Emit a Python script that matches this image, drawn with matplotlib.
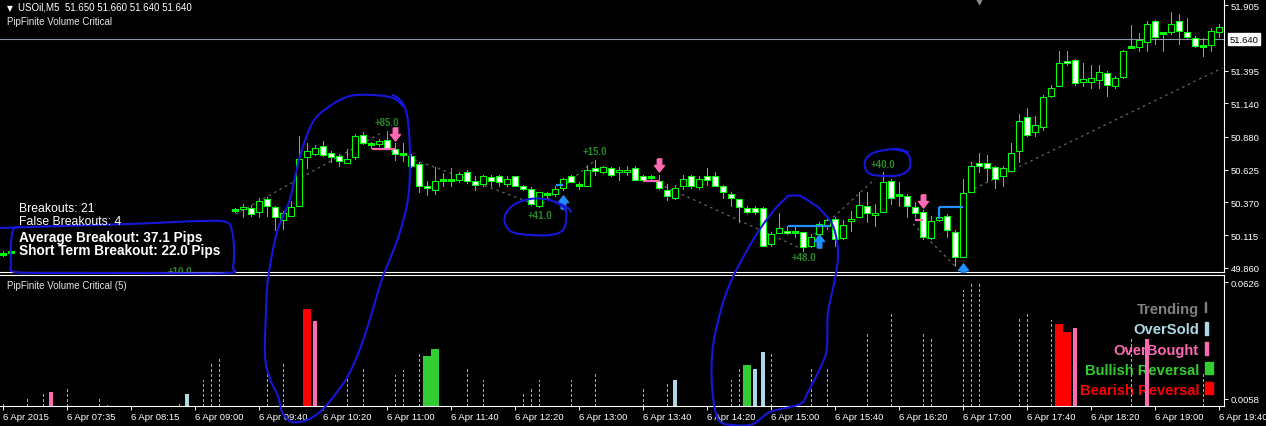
import numpy as np
import matplotlib
matplotlib.use("Agg")
import matplotlib.pyplot as plt
from matplotlib.path import Path
from matplotlib.patches import Rectangle

plt.rcParams['font.family'] = ['Liberation Sans', 'DejaVu Sans']

W, H = 1266, 427

# ---- USOil M5 candles, 6 Apr 2015 (bars 2..28 are below the visible range) ----
bars = [0, 1] + list(range(29, 153))
opens = [49.968, 49.984, 50.310, 50.318, 50.326, 50.295, 50.396, 50.334, 50.233, 50.264,
         50.342, 50.723, 50.746, 50.808, 50.754, 50.731, 50.676, 50.723, 50.894, 50.824,
         50.824, 50.855, 50.785, 50.746, 50.731, 50.668, 50.497, 50.466, 50.544, 50.544,
         50.544, 50.606, 50.536, 50.513, 50.567, 50.575, 50.513, 50.575, 50.497, 50.474,
         50.342, 50.435, 50.435, 50.482, 50.575, 50.505, 50.497, 50.637, 50.606, 50.637,
         50.606, 50.606, 50.637, 50.575, 50.567, 50.536, 50.466, 50.404, 50.497, 50.575,
         50.489, 50.575, 50.575, 50.497, 50.435, 50.396, 50.326, 50.326, 50.326, 50.046,
         50.131, 50.147, 50.139, 50.139, 50.030, 50.124, 50.186, 50.240, 50.093, 50.225,
         50.256, 50.342, 50.272, 50.295, 50.536, 50.427, 50.419, 50.334, 50.295, 50.093,
         50.233, 50.264, 50.139, 49.945, 50.450, 50.676, 50.676, 50.645, 50.575, 50.614,
         50.769, 51.034, 50.917, 50.956, 51.197, 51.275, 51.470, 51.477, 51.306, 51.306,
         51.322, 51.376, 51.275, 51.345, 51.579, 51.579, 51.617, 51.781, 51.687, 51.695,
         51.781, 51.695, 51.649, 51.586, 51.594, 51.695]
highs = [49.990, 50.000, 50.326, 50.357, 50.349, 50.404, 50.412, 50.342, 50.303, 50.380,
         50.886, 50.832, 50.816, 50.847, 50.769, 50.746, 50.785, 50.902, 50.917, 50.839,
         50.863, 50.925, 50.832, 50.832, 50.746, 50.684, 50.536, 50.645, 50.598, 50.637,
         50.606, 50.622, 50.575, 50.583, 50.583, 50.583, 50.575, 50.575, 50.505, 50.489,
         50.450, 50.450, 50.497, 50.559, 50.583, 50.528, 50.661, 50.699, 50.653, 50.645,
         50.645, 50.653, 50.653, 50.583, 50.583, 50.583, 50.513, 50.505, 50.583, 50.583,
         50.575, 50.637, 50.606, 50.505, 50.450, 50.396, 50.342, 50.342, 50.334, 50.139,
         50.287, 50.186, 50.178, 50.139, 50.124, 50.217, 50.264, 50.256, 50.233, 50.303,
         50.450, 50.450, 50.357, 50.606, 50.552, 50.528, 50.435, 50.373, 50.310, 50.264,
         50.342, 50.279, 50.155, 50.552, 50.684, 50.754, 50.738, 50.653, 50.653, 50.832,
         51.057, 51.104, 51.042, 51.205, 51.283, 51.547, 51.547, 51.485, 51.454, 51.439,
         51.439, 51.392, 51.353, 51.555, 51.750, 51.687, 51.781, 51.789, 51.695, 51.851,
         51.835, 51.804, 51.664, 51.649, 51.726, 51.757]
lows = [49.950, 49.965, 50.295, 50.256, 50.264, 50.256, 50.264, 50.155, 50.163, 50.264,
        50.342, 50.637, 50.738, 50.731, 50.684, 50.653, 50.676, 50.707, 50.824, 50.793,
        50.808, 50.793, 50.699, 50.692, 50.645, 50.450, 50.427, 50.435, 50.497, 50.497,
        50.528, 50.520, 50.466, 50.497, 50.497, 50.497, 50.497, 50.497, 50.466, 50.349,
        50.334, 50.396, 50.419, 50.466, 50.528, 50.474, 50.497, 50.583, 50.598, 50.575,
        50.544, 50.583, 50.544, 50.536, 50.552, 50.474, 50.388, 50.396, 50.474, 50.482,
        50.474, 50.505, 50.497, 50.404, 50.342, 50.217, 50.287, 50.279, 50.030, 50.030,
        50.131, 50.124, 50.100, 49.991, 50.023, 50.085, 50.163, 50.030, 50.085, 50.147,
        50.256, 50.217, 50.186, 50.295, 50.357, 50.342, 50.256, 50.256, 50.085, 50.085,
        50.225, 50.100, 49.875, 49.945, 50.450, 50.606, 50.536, 50.482, 50.497, 50.614,
        50.684, 50.886, 50.886, 50.933, 51.190, 51.275, 51.439, 51.283, 51.275, 51.260,
        51.260, 51.197, 51.260, 51.337, 51.579, 51.547, 51.547, 51.602, 51.547, 51.680,
        51.602, 51.641, 51.579, 51.509, 51.547, 51.656]
closes = [49.968, 49.984, 50.310, 50.334, 50.279, 50.380, 50.342, 50.256, 50.287, 50.334,
          50.707, 50.769, 50.793, 50.738, 50.723, 50.692, 50.707, 50.886, 50.832, 50.824,
          50.847, 50.793, 50.746, 50.746, 50.653, 50.497, 50.482, 50.536, 50.544, 50.544,
          50.591, 50.536, 50.505, 50.575, 50.536, 50.528, 50.552, 50.497, 50.474, 50.357,
          50.450, 50.435, 50.474, 50.552, 50.528, 50.505, 50.622, 50.614, 50.645, 50.583,
          50.622, 50.622, 50.544, 50.544, 50.567, 50.482, 50.419, 50.482, 50.552, 50.497,
          50.552, 50.544, 50.497, 50.450, 50.404, 50.334, 50.295, 50.295, 50.030, 50.124,
          50.170, 50.131, 50.139, 50.023, 50.100, 50.202, 50.233, 50.085, 50.194, 50.240,
          50.349, 50.287, 50.287, 50.528, 50.404, 50.427, 50.342, 50.287, 50.100, 50.225,
          50.256, 50.155, 49.945, 50.443, 50.653, 50.653, 50.637, 50.552, 50.637, 50.754,
          51.003, 50.894, 50.972, 51.190, 51.260, 51.454, 51.454, 51.299, 51.330, 51.337,
          51.384, 51.283, 51.337, 51.547, 51.579, 51.633, 51.757, 51.656, 51.687, 51.757,
          51.703, 51.656, 51.586, 51.586, 51.703, 51.734]

time_labels = ["6 Apr 2015", "6 Apr 07:35", "6 Apr 08:15", "6 Apr 09:00", "6 Apr 09:40",
               "6 Apr 10:20", "6 Apr 11:00", "6 Apr 11:40", "6 Apr 12:20", "6 Apr 13:00",
               "6 Apr 13:40", "6 Apr 14:20", "6 Apr 15:00", "6 Apr 15:40", "6 Apr 16:20",
               "6 Apr 17:00", "6 Apr 17:40", "6 Apr 18:20", "6 Apr 19:00", "6 Apr 19:40"]
label_step = 8
price_ticks = [51.905, 51.395, 51.140, 50.880, 50.625, 50.370, 50.115, 49.860]
last_price = 51.640

# zigzag between swing points (nan breaks the line)
zz_bars = [29.1, 47.5, np.nan, 47.75, 67.1, 73.75, np.nan, 82, 99.6, 109, np.nan,
           113.75, 119, np.nan, 120, 152.4]
zz_prices = [50.279, 50.917, np.nan, 50.785, 50.342, 50.684, np.nan, 50.513, 50.015, 50.552,
             np.nan, 50.202, 49.875, np.nan, 50.435, 51.415]

# breakout results
brk_bars = [48, 67.1, 74, 100.1, 110, 22.1]
brk_prices = [50.995, 50.272, 50.769, 49.945, 50.668, 49.835]
brk_texts = ["+85.0", "+41.0", "+15.0", "+48.0", "+40.0", "+10.0"]

# signals
sell_bars = [49, 82, 115]
sell_prices = [50.902, 50.661, 50.380]
buy_bars = [70, 102, 120]
buy_prices = [50.373, 50.069, 49.845]
sell_lines = [(46.1, 49.1, 50.785), (80, 82, 50.536), (114, 115, 50.233)]
buy_lines = [(69.1, 70, 50.505), (98.1, 103.4, 50.186), (117, 120, 50.334)]

# ---- PipFinite Volume Critical (5) ----
trend_idx = [0, 3, 5, 8, 12, 13, 22, 25, 26, 27, 33, 35, 43, 45, 49, 50, 52, 58, 60, 65,
             66, 67, 71, 74, 80, 83, 91, 92, 96, 101, 103, 108, 111, 115, 116, 120, 121, 122,
             127, 128, 131, 141, 150]
trend_val = [0.0043, 0.0063, 0.0092, 0.0121, 0.0063, 0.0029, 0.0048, 0.0150, 0.0238, 0.0257,
             0.0179, 0.0233, 0.0155, 0.0208, 0.0175, 0.0199, 0.0286, 0.0208, 0.0150, 0.0092,
             0.0121, 0.0150, 0.0150, 0.0179, 0.0111, 0.0145, 0.0150, 0.0208, 0.0286, 0.0208,
             0.0208, 0.0383, 0.0475, 0.0383, 0.0354, 0.0587, 0.0616, 0.0616, 0.0461, 0.0471,
             0.0442, 0.0354, 0.0189]
oversold_idx = [23, 84, 94, 95]
oversold_val = [0.0082, 0.0150, 0.0204, 0.0286]
overbought_idx = [6, 39, 134, 143]
overbought_val = [0.0092, 0.0437, 0.0403, 0.0349]
bull_idx = [53, 54, 93]
bull_val = [0.0267, 0.0301, 0.0223]
bear_idx = [38, 132, 133]
bear_val = [0.0495, 0.0422, 0.0383]

C_TREND, C_OS, C_OB, C_BULL, C_BEAR = '#808080', '#add8e6', '#ff69b4', '#32cd32', '#ff0000'
LIME = '#00ff00'
PEN = '#1616dc'


def smooth(pts, n=10):
    # Catmull-Rom through hand-drawn stroke points
    p = np.array(pts, float)
    p = np.vstack([p[0], p, p[-1]])
    out = []
    for i in range(1, len(p) - 2):
        p0, p1, p2, p3 = p[i - 1], p[i], p[i + 1], p[i + 2]
        for t in np.linspace(0, 1, n, endpoint=False):
            out.append(0.5 * (2 * p1 + (-p0 + p2) * t + (2 * p0 - 5 * p1 + 4 * p2 - p3) * t * t
                              + (-p0 + 3 * p1 - 3 * p2 + p3) * t ** 3))
    out.append(p[-2])
    return np.array(out)


fig = plt.figure(figsize=(W / 100, H / 100), dpi=100, facecolor='black')

ov = fig.add_axes([0, 0, 1, 1], zorder=5)
ov.set_xlim(0, W)
ov.set_ylim(H, 0)
ov.axis('off')
ov.patch.set_visible(False)
pix = ov.transData

ax = fig.add_axes([0, 1 - 273 / H, 1224 / W, 273 / H], facecolor='black', zorder=1)
ax2 = fig.add_axes([0, 1 - 407 / H, 1224 / W, 131 / H], facecolor='black', zorder=1)

# ---- main price panel ----
x = np.array(bars, float)
o, h, l, c = (np.array(v) for v in (opens, highs, lows, closes))
up = c >= o
lo_b, hi_b = np.minimum(o, c), np.maximum(o, c)
doji = (hi_b - lo_b) < 0.004

ax.axhline(last_price, color='#8c96a4', lw=0.8, zorder=1)
ax.plot(zz_bars, zz_prices, color='#5e6a68', lw=0.9, ls=(0, (2, 3)), zorder=1.5)
ax.vlines(x, l, h, color=LIME, lw=0.72, zorder=2, antialiased=False)
m = ~doji & up
ax.bar(x[m], (hi_b - lo_b)[m], bottom=lo_b[m], width=0.66, color='black',
       edgecolor=LIME, lw=0.72, zorder=3, antialiased=False)
m = ~doji & ~up
ax.bar(x[m], (hi_b - lo_b)[m], bottom=lo_b[m], width=0.66, color='white',
       edgecolor=LIME, lw=0.72, zorder=3, antialiased=False)
ax.hlines(c[doji], x[doji] - 0.36, x[doji] + 0.36, color=LIME, lw=0.9, zorder=3,
          antialiased=False)

for x0, x1, p in sell_lines:
    ax.hlines(p, x0, x1, color=C_OB, lw=1.6, zorder=4)
for x0, x1, p in buy_lines:
    ax.hlines(p, x0, x1, color='#1e90ff', lw=1.6, zorder=4)
ax.vlines(buy_lines[2][0], buy_lines[2][2] - 0.094, buy_lines[2][2], color='#1e90ff', lw=1.6, zorder=4)

down_arrow = Path([(-0.17, 0.5), (0.17, 0.5), (0.17, 0.0), (0.38, 0.0), (0.0, -0.5),
                   (-0.38, 0.0), (-0.17, 0.0), (-0.17, 0.5)])
up_arrow = Path([(vx, -vy) for vx, vy in down_arrow.vertices])
ax.plot(sell_bars, sell_prices, ls='none', marker=down_arrow, ms=9.5, color=C_OB, zorder=5)
ax.plot(buy_bars, buy_prices, ls='none', marker=up_arrow, ms=9.5, color='#1e90ff', zorder=5)
ax.plot([122], [51.955], ls='none', marker='v', ms=7, color='#8a8a8a', zorder=5)

for bx, bp, t in zip(brk_bars, brk_prices, brk_texts):
    ax.text(bx, bp, t, color='#268a26', fontsize=7, fontweight='bold',
            ha='center', va='center', zorder=5, clip_on=True)

ax.set_xlim(-0.375, 152.625)
ax.set_ylim(49.828, 51.952)
ax.set_xticks([])
ax.yaxis.tick_right()
ax.set_yticks(price_ticks)
ax.set_yticklabels([f"{v:.3f}" for v in price_ticks])
ax.tick_params(axis='y', colors='white', direction='out', length=3, width=0.7,
               pad=2, labelsize=6.8)
for s in ('top', 'left'):
    ax.spines[s].set_visible(False)
for s in ('right', 'bottom'):
    ax.spines[s].set_color('white')
    ax.spines[s].set_linewidth(0.8)
ax.annotate(f"{last_price:.3f}", xy=(1, last_price), xycoords=('axes fraction', 'data'),
            xytext=(4, 0), textcoords='offset points', ha='left', va='center',
            fontsize=6.8, color='black',
            bbox=dict(boxstyle='square,pad=0.18', fc='white', ec='white'))

# ---- indicator panel ----
ax2.vlines(trend_idx, 0, trend_val, colors='#a8a8a8', lw=0.9, linestyles=(0, (2, 2)),
           zorder=2, antialiased=False)
ax2.bar(oversold_idx, oversold_val, width=0.38, color=C_OS, zorder=2)
ax2.bar(overbought_idx, overbought_val, width=0.38, color=C_OB, zorder=2)
ax2.bar(bull_idx, bull_val, width=0.9, color=C_BULL, zorder=2)
ax2.bar(bear_idx, bear_val, width=1.0, color=C_BEAR, zorder=2)

ax2.set_xlim(-0.375, 152.625)
ax2.set_ylim(0.0024, 0.0660)
ax2.yaxis.tick_right()
ax2.set_yticks([0.0626, 0.0058])
ax2.set_yticklabels(["0.0626", "0.0058"])
ax2.set_xticks(np.arange(len(time_labels)) * label_step)
ax2.set_xticklabels(time_labels)
for lab in ax2.get_xticklabels():
    lab.set_ha('left')
ax2.tick_params(axis='y', colors='white', direction='out', length=3, width=0.7,
                pad=2, labelsize=6.8)
ax2.tick_params(axis='x', colors='white', direction='out', length=3, width=0.7,
                pad=1.5, labelsize=6.8)
ax2.spines['left'].set_visible(False)
for s in ('top', 'right', 'bottom'):
    ax2.spines[s].set_color('white')
    ax2.spines[s].set_linewidth(0.8)

legend = [("Trending", C_TREND, 314, 1, 303, 10), ("OverSold", C_OS, 334, 3, 323, 13),
          ("OverBought", C_OB, 355, 3, 343, 13), ("Bullish Reversal", C_BULL, 375, 8, 363, 12),
          ("Bearish Reversal", C_BEAR, 395, 8, 383, 12)]
for name, col, base, mw, mt, mh in legend:
    ax2.text(1199, base, name, transform=pix, color=col, fontsize=10.6, fontweight='bold',
             ha='right', va='baseline', zorder=1)
    ax2.add_patch(Rectangle((1205, mt), mw, mh, transform=pix, color=col, zorder=3,
                            clip_on=False))

# ---- header / info texts ----
fig.text(7 / W, 1 - 11 / H, "\u25bc", color='white', fontsize=5.5, family='DejaVu Sans', va='baseline')
fig.text(18 / W, 1 - 11 / H, "USOil,M5  51.650 51.660 51.640 51.640", color='white',
         fontsize=7, va='baseline')
fig.text(7 / W, 1 - 25 / H, "PipFinite Volume Critical", color='#e6e6e6', fontsize=7, va='baseline')
fig.text(7 / W, 1 - 289 / H, "PipFinite Volume Critical (5)", color='#e6e6e6', fontsize=7,
         va='baseline', zorder=6)
fig.text(19 / W, 1 - 212 / H, "Breakouts: 21", color='white', fontsize=8.8, va='baseline', zorder=6)
fig.text(19 / W, 1 - 225 / H, "False Breakouts: 4", color='white', fontsize=8.8, va='baseline', zorder=6)
fig.text(19 / W, 1 - 242 / H, "Average Breakout: 37.1 Pips", color='white', fontsize=9.8,
         fontweight='bold', va='baseline', zorder=6)
fig.text(19 / W, 1 - 255 / H, "Short Term Breakout: 22.0 Pips", color='white', fontsize=9.8,
         fontweight='bold', va='baseline', zorder=6)

# ---- hand-drawn blue marks ----
strokes = [
    [(0, 229), (60, 227), (130, 225), (200, 222), (226, 223), (232, 232), (234, 250), (233, 268),
     (228, 274), (150, 274), (60, 274), (15, 273), (11, 265), (11, 245), (13, 231), (18, 228)],
    [(393, 96), (400, 101), (406, 112), (409, 133), (410, 167), (408, 200), (400, 233), (390, 260),
     (382, 280), (370, 320), (360, 350), (348, 377), (337, 393), (325, 408), (313, 418), (300, 423),
     (290, 422), (282, 413), (278, 397), (270, 380), (265, 357), (266, 313), (268, 280), (277, 233),
     (290, 200), (300, 157), (313, 123), (330, 107), (350, 97), (373, 96), (393, 99), (403, 107)],
    [(555, 203), (565, 210), (566, 222), (562, 232), (550, 236), (530, 236), (512, 233), (505, 224),
     (506, 214), (515, 205), (530, 200), (545, 200), (558, 204), (568, 209), (571, 213)],
    [(892, 150), (905, 153), (910, 160), (909, 170), (900, 176), (885, 177), (870, 175), (865, 168),
     (866, 160), (873, 154), (885, 151), (898, 150), (908, 153)],
    [(787, 197), (800, 197), (813, 205), (820, 210), (833, 227), (838, 253), (835, 280), (828, 313),
     (827, 347), (823, 363), (808, 393), (800, 405), (770, 413), (753, 425), (733, 426), (718, 420),
     (712, 387), (713, 347), (722, 307), (732, 280), (745, 255), (760, 230), (775, 210), (787, 198)],
]
for st in strokes:
    pts = smooth(st)
    ov.plot(pts[:, 0], pts[:, 1], color=PEN, lw=1.5, solid_capstyle='round')

fig.savefig('out.png', dpi=100, facecolor='black')
